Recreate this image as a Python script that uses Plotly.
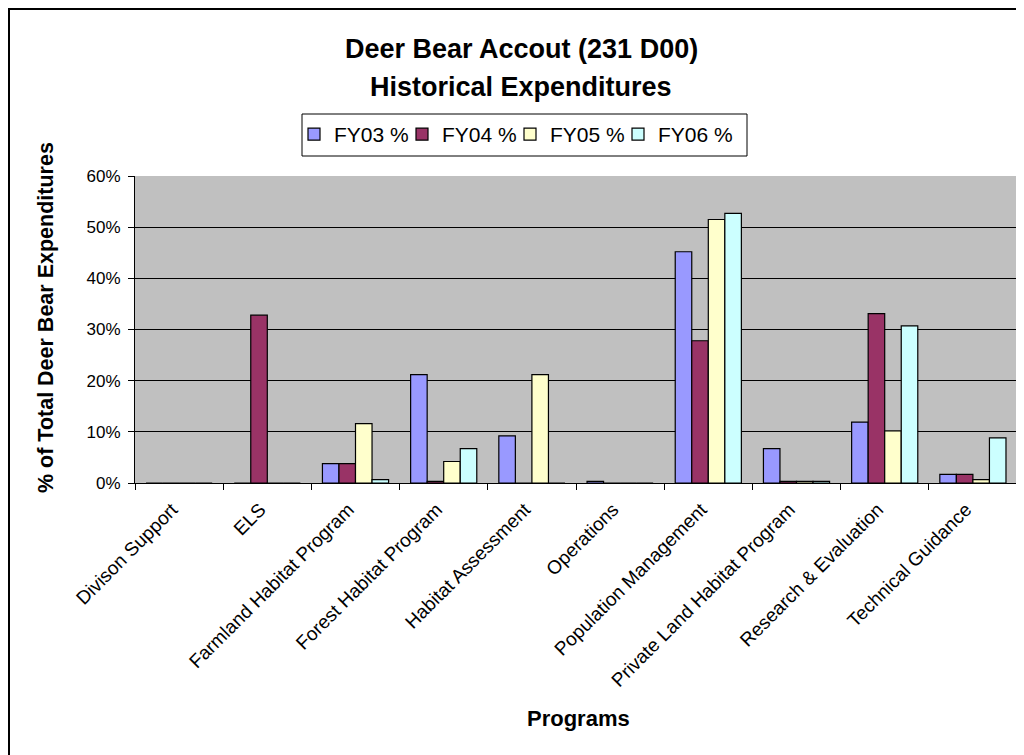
import plotly.graph_objects as go

categories = ["Divison Support", "ELS", "Farmland Habitat Program", "Forest Habitat Program",
              "Habitat Assessment", "Operations", "Population Management",
              "Private Land Habitat Program", "Research & Evaluation", "Technical Guidance"]
fy03 = [0.0, 0.0, 0.038, 0.212, 0.092, 0.003, 0.452, 0.067, 0.119, 0.017]
fy04 = [0.0, 0.328, 0.038, 0.003, 0.0, 0.0, 0.278, 0.003, 0.331, 0.017]
fy05 = [0.0, 0.0, 0.116, 0.042, 0.212, 0.0, 0.515, 0.003, 0.102, 0.0065]
fy06 = [0.0, 0.0, 0.0065, 0.067, 0.0, 0.0, 0.527, 0.003, 0.307, 0.088]
series_names = ["FY03 %", "FY04 %", "FY05 %", "FY06 %"]
series_colors = ["#9999FF", "#993366", "#FFFFCC", "#CCFFFF"]
y_ticks = [0, 0.1, 0.2, 0.3, 0.4, 0.5, 0.6]

FONT = "Liberation Sans, Arial, sans-serif"

fig = go.Figure()
all_series = [fy03, fy04, fy05, fy06]
for i, (name, vals, col) in enumerate(zip(series_names, all_series, series_colors)):
    extra = {"legendwidth": 95} if i == len(all_series) - 1 else {}
    fig.add_trace(go.Bar(x=categories, y=vals, name=name,
                         marker=dict(color=col, line=dict(color="black", width=1.2)), **extra))

# page has an 8px body margin; work in screen pixels and convert
OFF = 8
W, H = 1024 - OFF, 755 - OFF
L, R, T, B = 135 - OFF, 7, 176 - OFF, 272
pw, ph = W - L - R, H - T - B

def px_x(x):
    return (x - OFF - L) / pw

def px_y(y):
    return (H - B - (y - OFF)) / ph

fig.update_layout(
    width=W, height=H,
    margin=dict(l=L, r=R, t=T, b=B, pad=0),
    paper_bgcolor="white", plot_bgcolor="#C0C0C0",
    barmode="group", bargap=0.25, bargroupgap=0,
    font=dict(family=FONT, color="black"),
    showlegend=True,
    legend=dict(orientation="h", x=px_x(294), y=px_y(114), xanchor="left", yanchor="top",
                borderwidth=0, bgcolor="rgba(0,0,0,0)",
                font=dict(size=21, family=FONT), itemwidth=30,
                entrywidth=63, entrywidthmode="pixels",
                traceorder="normal"),
    xaxis=dict(type="category", tickson="boundaries", ticks="outside", ticklen=6,
               tickcolor="black", showline=True, linecolor="black", linewidth=1,
               tickangle=-45, tickfont=dict(size=19, family=FONT), showgrid=False,
               ticklabelstandoff=7, ticklabelshift=-7),
    yaxis=dict(range=[0, 0.6], tickvals=y_ticks, tickformat=".0%", ticks="outside",
               ticklen=6, tickcolor="black", showline=True, linecolor="black", linewidth=1,
               showgrid=True, gridcolor="black", gridwidth=1, zeroline=False,
               tickfont=dict(size=17, family=FONT), ticklabelstandoff=4),
    annotations=[
        dict(text="<b>Deer Bear Accout (231 D00)</b>", x=px_x(521), y=px_y(49), xref="paper", yref="paper",
             xanchor="center", yanchor="middle", showarrow=False, font=dict(size=27, family=FONT)),
        dict(text="<b>Historical Expenditures</b>", x=px_x(521), y=px_y(87), xref="paper", yref="paper",
             xanchor="center", yanchor="middle", showarrow=False, font=dict(size=27, family=FONT)),
        dict(text="<b>% of Total Deer Bear Expenditures</b>", x=px_x(46), y=px_y(318), xref="paper", yref="paper",
             xanchor="center", yanchor="middle", showarrow=False, textangle=-90, font=dict(size=21.5, family=FONT)),
        dict(text="<b>Programs</b>", x=px_x(578), y=px_y(718), xref="paper", yref="paper",
             xanchor="center", yanchor="middle", showarrow=False, font=dict(size=22, family=FONT)),
    ],
    shapes=[
        # outer chart frame (right/bottom edges fall outside the picture)
        dict(type="rect", xref="paper", yref="paper", x0=px_x(9), y0=px_y(800), x1=px_x(1100), y1=px_y(9),
             line=dict(color="black", width=2), fillcolor="rgba(0,0,0,0)", layer="above"),
        # legend frame
        dict(type="rect", xref="paper", yref="paper", x0=px_x(302), y0=px_y(156), x1=px_x(747), y1=px_y(114),
             line=dict(color="black", width=1), fillcolor="white", layer="below"),
    ],
)

fig.write_html("out.html")
